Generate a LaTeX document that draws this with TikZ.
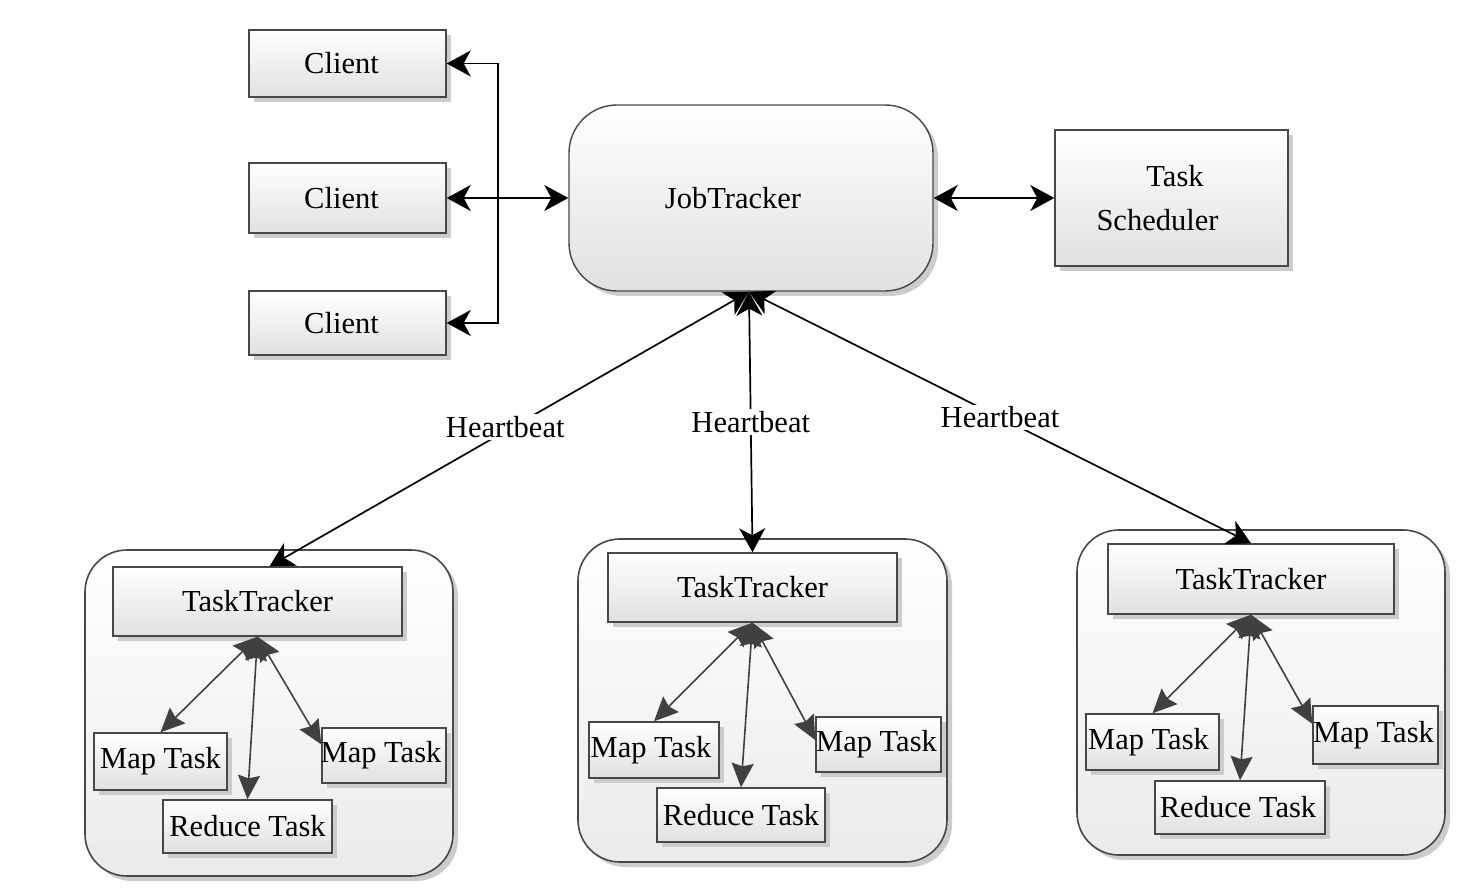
\documentclass[tikz,border=0pt]{standalone}
\usepackage{fontspec}
\setmainfont{Liberation Serif}
\usetikzlibrary{arrows.meta,shadows,calc}
\begin{document}
\begin{tikzpicture}[x=1pt,y=-1pt,
  font=\fontsize{30.5}{36}\selectfont,
  shad/.style={drop shadow={shadow xshift=5pt, shadow yshift=-5pt, fill=black!20, opacity=1}},
  box/.style={draw=black!72, line width=1.4pt, top color=white, bottom color=black!12, inner sep=0pt, shad},
  cont/.style={draw=black!72, line width=1.6pt, top color=white, bottom color=black!8, inner sep=0pt, rounded corners=42pt, shad},
  outer/.style={draw=black, line width=1.7pt, {Stealth[length=24pt,width=26pt,inset=7pt]}-{Stealth[length=24pt,width=26pt,inset=7pt]}},
  inner/.style={draw=black!75, line width=1.6pt, {Stealth[length=24pt,width=22pt,inset=3pt]}-{Stealth[length=24pt,width=22pt,inset=3pt]}},
  hb/.style={fill=white, inner sep=2pt}]
\useasboundingbox (0,0) rectangle (1470,890);

% containers
\node[cont, minimum width=368pt, minimum height=326pt] (k1) at (269,713) {};
\node[cont, minimum width=369pt, minimum height=323pt] (k2) at (762.5,700.5) {};
\node[cont, minimum width=368pt, minimum height=325pt] (k3) at (1261,692.5) {};

% clients
\node[box, minimum width=197pt, minimum height=67pt] (c1) at (347.5,63.5) {\hspace*{-12pt}Client};
\node[box, minimum width=197pt, minimum height=70pt] (c2) at (347.5,198) {\hspace*{-12pt}Client};
\node[box, minimum width=197pt, minimum height=64pt] (c3) at (347.5,323) {\hspace*{-12pt}Client};

% job tracker & scheduler
\node[box, rounded corners=48pt, minimum width=364pt, minimum height=186pt] (jt) at (751,198) {\hspace*{-36pt}JobTracker};
\node[box, minimum width=233pt, minimum height=136pt, align=center, font=\fontsize{30.5}{44}\selectfont] (ts) at (1171.5,198) {\hspace*{18pt}Task\hspace*{11pt}\\Scheduler\hspace*{28pt}};

% task trackers
\node[box, minimum width=289pt, minimum height=69pt] (tt1) at (257.5,601.5) {TaskTracker};
\node[box, minimum width=289pt, minimum height=69pt] (tt2) at (752.5,587.5) {TaskTracker};
\node[box, minimum width=286pt, minimum height=70pt] (tt3) at (1251,579) {TaskTracker};

% tasks
\node[box, minimum width=133pt, minimum height=57pt] (ml1) at (160.5,761.5) {Map Task};
\node[box, minimum width=169pt, minimum height=53pt] (rd1) at (247.5,826.5) {Reduce Task};
\node[box, minimum width=124pt, minimum height=55pt] (mr1) at (384,755.5) {\hspace*{-6pt}Map Task};

\node[box, minimum width=130pt, minimum height=56pt] (ml2) at (654,750) {\hspace*{-6pt}Map Task};
\node[box, minimum width=168pt, minimum height=54pt] (rd2) at (741,815) {Reduce Task};
\node[box, minimum width=125pt, minimum height=55pt] (mr2) at (878.5,744.5) {\hspace*{-4pt}Map Task};

\node[box, minimum width=133pt, minimum height=56pt] (ml3) at (1152.5,742) {\hspace*{-8pt}Map Task};
\node[box, minimum width=170pt, minimum height=53pt] (rd3) at (1240,807.5) {\hspace*{-4pt}Reduce Task};
\node[box, minimum width=125pt, minimum height=58pt] (mr3) at (1375.5,735) {\hspace*{-4pt}Map Task};

% client connections
\draw[outer] (c1.east) -- ++(51,0) |- (c3.east);
\draw[outer] (c2.east) -- (jt.west);
\draw[outer] (jt.east) -- (ts.west);

% heartbeats
\draw[outer] ($(jt.south)+(-2,0)$) -- node[hb, pos=0.5, xshift=-4pt, yshift=2pt]{Heartbeat} ($(tt1.north)+(12,0)$);
\draw[outer] ($(jt.south)+(-2,0)$) -- node[hb, pos=0.5]{Heartbeat} (tt2.north);
\draw[outer] ($(jt.south)+(-2,0)$) -- node[hb, pos=0.5]{Heartbeat} (tt3.north);

% inner arrows
\draw[inner] (tt1.south) -- (ml1.north);
\draw[inner] (tt1.south) -- (rd1.north);
\draw[inner] (tt1.south) -- (mr1.170);

\draw[inner] (tt2.south) -- (ml2.north);
\draw[inner] (tt2.south) -- (rd2.north);
\draw[inner] (tt2.south) -- (mr2.176);

\draw[inner] (tt3.south) -- (ml3.north);
\draw[inner] (tt3.south) -- (rd3.north);
\draw[inner] (tt3.south) -- (mr3.170);
\end{tikzpicture}
\end{document}
